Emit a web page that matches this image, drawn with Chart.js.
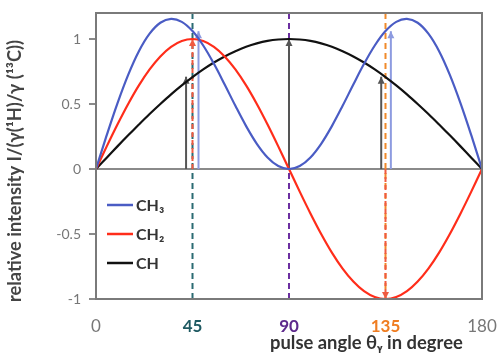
<!DOCTYPE html>
<html>
<head>
<meta charset="utf-8">
<script src="https://cdn.jsdelivr.net/npm/chart.js@4/dist/chart.umd.min.js"></script>
<style>
  body { margin: 0; background: #fff; }
  canvas { display: block; }
</style>
</head>
<body>
<canvas id="chart" width="499" height="358"></canvas>
<script>
// pulse angle in degree, every 5 degrees
const angles = [0, 5, 10, 15, 20, 25, 30, 35, 40, 45, 50, 55, 60, 65, 70, 75, 80, 85, 90,
  95, 100, 105, 110, 115, 120, 125, 130, 135, 140, 145, 150, 155, 160, 165, 170, 175, 180];

const ch3 = [0, 0.260, 0.505, 0.724, 0.906, 1.041, 1.125, 1.155, 1.132, 1.061, 0.950, 0.809, 0.650, 0.486, 0.330, 0.194, 0.089, 0.023, 0,
  0.023, 0.089, 0.194, 0.330, 0.486, 0.650, 0.809, 0.950, 1.061, 1.132, 1.155, 1.125, 1.041, 0.906, 0.724, 0.505, 0.260, 0];
const ch2 = [0, 0.174, 0.342, 0.500, 0.643, 0.766, 0.866, 0.940, 0.985, 1, 0.985, 0.940, 0.866, 0.766, 0.643, 0.500, 0.342, 0.174, 0,
  -0.174, -0.342, -0.500, -0.643, -0.766, -0.866, -0.940, -0.985, -1, -0.985, -0.940, -0.866, -0.766, -0.643, -0.500, -0.342, -0.174, 0];
const ch = [0, 0.087, 0.174, 0.259, 0.342, 0.423, 0.500, 0.574, 0.643, 0.707, 0.766, 0.819, 0.866, 0.906, 0.940, 0.966, 0.985, 0.996, 1,
  0.996, 0.985, 0.966, 0.940, 0.906, 0.866, 0.819, 0.766, 0.707, 0.643, 0.574, 0.500, 0.423, 0.342, 0.259, 0.174, 0.087, 0];

const seriesNames = ['CH\u2083', 'CH\u2082', 'CH'];
const xTicks = [0, 45, 90, 135, 180];
const yTicks = [-1, -0.5, 0, 0.5, 1];
const xTitle = 'pulse angle \u03b8\u1d67 in degree';
const yTitle = 'relative intensity I/(\u03b3(\u00b9H)/\u03b3 (\u00b9\u00b3C))';

// dashed guide lines at the special angles
const guideAngles = [45, 90, 135];
// arrows: angle, top value, kind (0 = CH, 1 = CH2, 2 = CH3)
const arrowAngles = [42, 45, 47.8, 90, 133, 135, 137.5];
const arrowValues = [0.71, 1, 1.06, 1, 0.71, -1, 1.06];
const arrowKinds = [0, 1, 2, 0, 0, 1, 2];

const lineColors = ['#4a5cc4', '#ff2d1a', '#111111'];
const guideColors = ['#2b6b72', '#6b2fa0', '#f08a2a'];
const arrowColors = ['#555555', '#f05a40', '#8d9be0'];
const tickColors = { 0: '#777777', 45: '#1f5a62', 90: '#5e2a8c', 135: '#ef7d22', 180: '#777777' };

const FONT = 'Lato, "Open Sans", "DejaVu Sans", sans-serif';

function pts(vals) {
  return angles.map((a, i) => ({ x: a, y: vals[i] }));
}

function tickVal(c) {
  return c && c.tick ? c.tick.value : 0;
}

// bold text scaled to a given width
function fitText(ctx, text, width, base) {
  ctx.font = 'bold ' + base + 'px ' + FONT;
  const size = base * width / ctx.measureText(text).width;
  ctx.font = 'bold ' + size.toFixed(1) + 'px ' + FONT;
}

const decor = {
  id: 'decor',
  beforeDatasetsDraw(chart) {
    const { ctx, chartArea: ca, scales: { x, y } } = chart;
    ctx.save();
    // zero line
    ctx.strokeStyle = '#8a8a8a';
    ctx.lineWidth = 2;
    ctx.beginPath();
    ctx.moveTo(ca.left, y.getPixelForValue(0));
    ctx.lineTo(ca.right, y.getPixelForValue(0));
    ctx.stroke();
    // guide lines
    ctx.lineWidth = 2;
    ctx.setLineDash([6, 4]);
    guideAngles.forEach((a, i) => {
      const px = x.getPixelForValue(a);
      ctx.strokeStyle = guideColors[i];
      ctx.beginPath();
      ctx.moveTo(px, ca.top);
      ctx.lineTo(px, ca.bottom + 4);
      ctx.stroke();
    });
    // arrows
    arrowAngles.forEach((a, i) => {
      const k = arrowKinds[i];
      const px = x.getPixelForValue(a);
      const y0 = y.getPixelForValue(0);
      const y1 = y.getPixelForValue(arrowValues[i]);
      ctx.strokeStyle = arrowColors[k];
      ctx.fillStyle = arrowColors[k];
      ctx.lineWidth = 2;
      ctx.setLineDash(k === 1 ? [5, 3] : []);
      ctx.beginPath();
      ctx.moveTo(px, y0);
      ctx.lineTo(px, y1);
      ctx.stroke();
      ctx.setLineDash([]);
      const dir = y1 < y0 ? 1 : -1;
      ctx.beginPath();
      ctx.moveTo(px, y1);
      ctx.lineTo(px - 3.5, y1 + dir * 7);
      ctx.lineTo(px + 3.5, y1 + dir * 7);
      ctx.closePath();
      ctx.fill();
    });
    ctx.restore();
  },
  afterDraw(chart) {
    const { ctx, chartArea: ca } = chart;
    ctx.save();
    // frame
    ctx.strokeStyle = '#7a7a7a';
    ctx.lineWidth = 2;
    ctx.strokeRect(ca.left, ca.top, ca.right - ca.left, ca.bottom - ca.top);
    // legend inside plot
    ctx.font = 'bold 16px ' + FONT;
    ctx.textBaseline = 'middle';
    seriesNames.forEach((n, i) => {
      const ly = 205 + i * 29;
      ctx.strokeStyle = lineColors[i];
      ctx.lineWidth = 2.5;
      ctx.beginPath();
      ctx.moveTo(107, ly);
      ctx.lineTo(133, ly);
      ctx.stroke();
      ctx.fillStyle = '#333333';
      ctx.fillText(n, 136, ly + 1);
    });
    // axis titles
    ctx.fillStyle = '#333333';
    ctx.textAlign = 'left';
    ctx.textBaseline = 'alphabetic';
    fitText(ctx, xTitle, 193, 16);
    ctx.fillText(xTitle, 270, 349);
    ctx.fillStyle = '#444444';
    ctx.textAlign = 'center';
    ctx.textBaseline = 'middle';
    fitText(ctx, yTitle, 262, 15);
    ctx.translate(15, 171);
    ctx.rotate(-Math.PI / 2);
    ctx.fillText(yTitle, 0, 0);
    ctx.restore();
  }
};

new Chart(document.getElementById('chart'), {
  type: 'line',
  data: {
    datasets: [ch3, ch2, ch].map((v, i) => ({
      label: seriesNames[i],
      data: pts(v),
      borderColor: lineColors[i],
      borderWidth: 2.2,
      pointRadius: 0,
      tension: 0.35,
      fill: false
    }))
  },
  options: {
    responsive: false,
    animation: false,
    layout: { padding: { top: 13, right: 17, left: 0, bottom: 0 } },
    plugins: { legend: { display: false }, tooltip: { enabled: false } },
    scales: {
      x: {
        type: 'linear',
        min: 0,
        max: 180,
        afterBuildTicks: s => { s.ticks = xTicks.map(v => ({ value: v })); },
        afterFit: s => { s.height = 59; s.paddingLeft = 0; s.paddingRight = 0; },
        grid: { display: false, drawTicks: false },
        border: { display: false },
        ticks: {
          padding: 17,
          color: c => tickColors[tickVal(c)] || '#777777',
          font: c => ({ family: FONT, size: 17, weight: (tickVal(c) % 180 === 0) ? 'normal' : 'bold' })
        }
      },
      y: {
        min: -1,
        max: 1.2,
        afterBuildTicks: s => { s.ticks = yTicks.map(v => ({ value: v })); },
        afterFit: s => { s.width = 96; s.paddingTop = 0; s.paddingBottom = 0; },
        grid: { drawOnChartArea: false, tickLength: 7, color: '#8a8a8a', lineWidth: 2 },
        border: { display: false },
        ticks: {
          padding: 8,
          color: '#777777',
          font: { family: FONT, size: 14 },
          callback: v => String(v)
        }
      }
    }
  },
  plugins: [decor]
});
</script>
</body>
</html>
